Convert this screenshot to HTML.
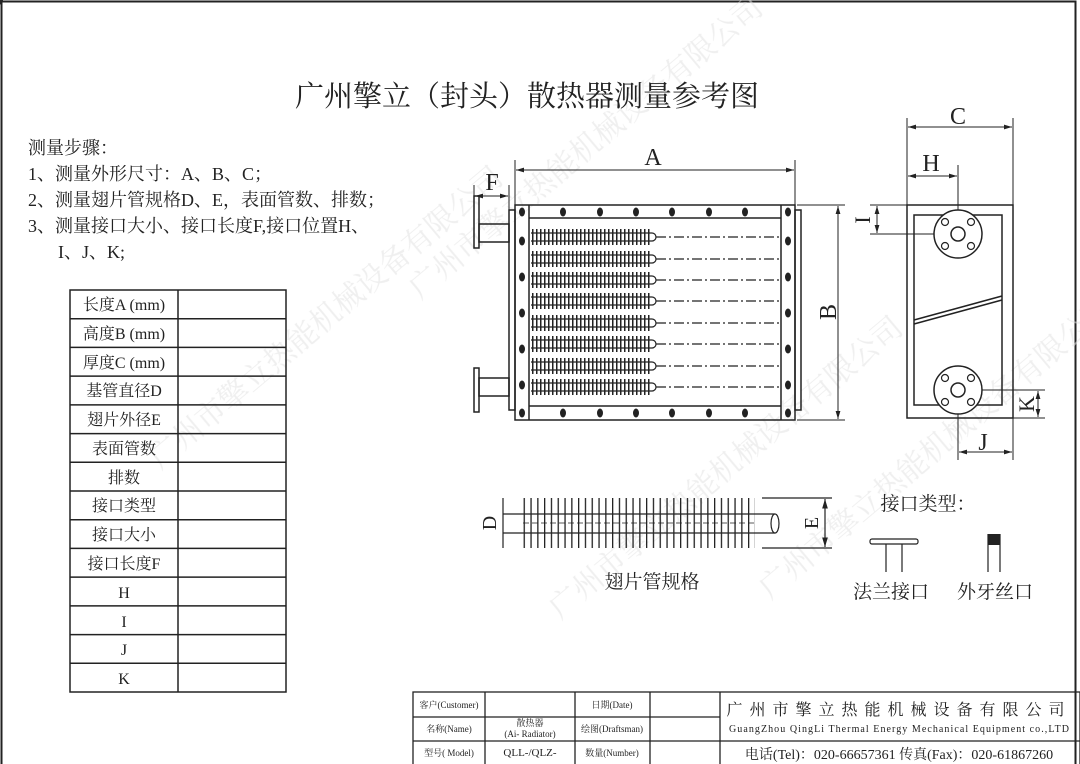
<!DOCTYPE html>
<html><head><meta charset="utf-8"><style>
html,body{margin:0;padding:0;background:#fff}
svg{display:block}
text{font-family:"Liberation Serif","Noto Serif CJK SC",serif;fill:#222}
</style></head><body>
<svg width="1080" height="764" viewBox="0 0 1080 764" xmlns="http://www.w3.org/2000/svg">
<defs>
<pattern id="fin" x="0" y="0" width="4" height="10" patternUnits="userSpaceOnUse"><rect x="0" y="0" width="1.5" height="10" fill="#222"/></pattern>
<pattern id="fin2" x="0" y="0" width="6.8" height="10" patternUnits="userSpaceOnUse"><rect x="0" y="0" width="1.3" height="10" fill="#222"/></pattern>
<marker id="ar" viewBox="0 0 10 6" refX="10" refY="3" markerWidth="8" markerHeight="5" orient="auto-start-reverse"><path d="M0,0 L10,3 L0,6 z" fill="#222"/></marker>
</defs>
<rect x="1.5" y="1.5" width="1074" height="780" fill="none" stroke="#222" stroke-width="2"/>
<g font-size="30" opacity="0.55" style="fill:#e2e2e2">
<text style="fill:#e2e2e2" transform="translate(160,470) rotate(-40)">广州市擎立热能机械设备有限公司</text>
<text style="fill:#e2e2e2" transform="translate(560,620) rotate(-40)">广州市擎立热能机械设备有限公司</text>
<text style="fill:#e2e2e2" transform="translate(420,300) rotate(-40)">广州市擎立热能机械设备有限公司</text>
<text style="fill:#e2e2e2" transform="translate(770,600) rotate(-40)">广州市擎立热能机械设备有限公司</text>
</g>
<text x="527" y="106" font-size="29" text-anchor="middle">广州擎立（封头）散热器测量参考图</text>
<g font-size="18">
<text x="28" y="154">测量步骤：</text>
<text x="28" y="180">1、测量外形尺寸：A、B、C；</text>
<text x="28" y="206">2、测量翅片管规格D、E，表面管数、排数；</text>
<text x="28" y="232">3、测量接口大小、接口长度F,接口位置H、</text>
<text x="58" y="258">I、J、K;</text>
</g>
<g stroke="#222" stroke-width="1.5" fill="none">
<rect x="70" y="290" width="216" height="402"/>
<line x1="178" y1="290" x2="178" y2="692"/>
<line x1="70" y1="318.7" x2="286" y2="318.7"/><line x1="70" y1="347.4" x2="286" y2="347.4"/>
<line x1="70" y1="376.1" x2="286" y2="376.1"/><line x1="70" y1="404.9" x2="286" y2="404.9"/>
<line x1="70" y1="433.6" x2="286" y2="433.6"/><line x1="70" y1="462.3" x2="286" y2="462.3"/>
<line x1="70" y1="491" x2="286" y2="491"/><line x1="70" y1="519.7" x2="286" y2="519.7"/>
<line x1="70" y1="548.4" x2="286" y2="548.4"/><line x1="70" y1="577.1" x2="286" y2="577.1"/>
<line x1="70" y1="605.9" x2="286" y2="605.9"/><line x1="70" y1="634.6" x2="286" y2="634.6"/>
<line x1="70" y1="663.3" x2="286" y2="663.3"/>
</g>
<g font-size="16" text-anchor="middle">
<text x="124" y="310">长度A (mm)</text>
<text x="124" y="339">高度B (mm)</text>
<text x="124" y="368">厚度C (mm)</text>
<text x="124" y="396">基管直径D</text>
<text x="124" y="425">翅片外径E</text>
<text x="124" y="454">表面管数</text>
<text x="124" y="483">排数</text>
<text x="124" y="511">接口类型</text>
<text x="124" y="540">接口大小</text>
<text x="124" y="569">接口长度F</text>
<text x="124" y="598">H</text>
<text x="124" y="627">I</text>
<text x="124" y="655">J</text>
<text x="124" y="684">K</text>
</g>
<g stroke="#222" stroke-width="1.5" fill="none">
<rect x="509" y="210" width="6" height="200"/>
<rect x="795" y="210" width="6" height="200"/>
<rect x="515" y="205" width="280" height="215"/>
<line x1="529" y1="205" x2="529" y2="420"/>
<line x1="781" y1="205" x2="781" y2="420"/>
<line x1="529" y1="218" x2="781" y2="218"/>
<line x1="529" y1="406" x2="781" y2="406"/>
<rect x="474" y="196" width="5" height="52"/>
<rect x="479" y="224" width="30" height="18"/>
<rect x="474" y="368" width="5" height="44"/>
<rect x="479" y="378" width="30" height="18"/>
</g>
<g fill="#222">
<g id="bt"><ellipse cx="0" cy="0" rx="3" ry="4.5"/></g>
<use href="#bt" x="563" y="212"/><use href="#bt" x="600" y="212"/><use href="#bt" x="636" y="212"/><use href="#bt" x="672" y="212"/><use href="#bt" x="709" y="212"/><use href="#bt" x="745" y="212"/>
<use href="#bt" x="563" y="413"/><use href="#bt" x="600" y="413"/><use href="#bt" x="636" y="413"/><use href="#bt" x="672" y="413"/><use href="#bt" x="709" y="413"/><use href="#bt" x="745" y="413"/>
<use href="#bt" x="522" y="212"/><use href="#bt" x="522" y="241"/><use href="#bt" x="522" y="277"/><use href="#bt" x="522" y="313"/><use href="#bt" x="522" y="349"/><use href="#bt" x="522" y="385"/><use href="#bt" x="522" y="413"/>
<use href="#bt" x="788" y="212"/><use href="#bt" x="788" y="241"/><use href="#bt" x="788" y="277"/><use href="#bt" x="788" y="313"/><use href="#bt" x="788" y="349"/><use href="#bt" x="788" y="385"/><use href="#bt" x="788" y="413"/>
</g>
<g>
<rect x="531" y="229" width="121" height="16" fill="url(#fin)"/>
<rect x="531" y="251" width="121" height="16" fill="url(#fin)"/>
<rect x="531" y="272" width="121" height="16" fill="url(#fin)"/>
<rect x="531" y="293" width="121" height="16" fill="url(#fin)"/>
<rect x="531" y="315" width="121" height="16" fill="url(#fin)"/>
<rect x="531" y="336" width="121" height="16" fill="url(#fin)"/>
<rect x="531" y="358" width="121" height="16" fill="url(#fin)"/>
<rect x="531" y="379" width="121" height="16" fill="url(#fin)"/>
</g>
<g stroke="#222" stroke-width="1.2" fill="none">
<path d="M531 233h121a4 4 0 0 1 0 8h-121M531 255h121a4 4 0 0 1 0 8h-121M531 276h121a4 4 0 0 1 0 8h-121M531 297h121a4 4 0 0 1 0 8h-121M531 319h121a4 4 0 0 1 0 8h-121M531 340h121a4 4 0 0 1 0 8h-121M531 362h121a4 4 0 0 1 0 8h-121M531 383h121a4 4 0 0 1 0 8h-121"/>
<g stroke-dasharray="10 3 2 3">
<line x1="656" y1="237" x2="780" y2="237"/><line x1="656" y1="259" x2="780" y2="259"/>
<line x1="656" y1="280" x2="780" y2="280"/><line x1="656" y1="301" x2="780" y2="301"/>
<line x1="656" y1="323" x2="780" y2="323"/><line x1="656" y1="344" x2="780" y2="344"/>
<line x1="656" y1="366" x2="780" y2="366"/><line x1="656" y1="387" x2="780" y2="387"/>
</g>
</g>
<g stroke="#222" stroke-width="1" fill="none">
<line x1="515" y1="160" x2="515" y2="205"/><line x1="795" y1="160" x2="795" y2="205"/>
<line x1="516" y1="170" x2="794" y2="170" marker-start="url(#ar)" marker-end="url(#ar)"/>
<line x1="474" y1="185" x2="474" y2="196"/><line x1="509" y1="185" x2="509" y2="210"/>
<line x1="475" y1="196" x2="508" y2="196" marker-start="url(#ar)" marker-end="url(#ar)"/>
<line x1="797" y1="205" x2="845" y2="205"/><line x1="797" y1="420" x2="845" y2="420"/>
<line x1="838" y1="206" x2="838" y2="419" marker-start="url(#ar)" marker-end="url(#ar)"/>
</g>
<text x="653" y="165" font-size="24" text-anchor="middle">A</text>
<text x="492" y="190" font-size="24" text-anchor="middle">F</text>
<text transform="translate(836,312) rotate(-90)" font-size="24" text-anchor="middle">B</text>
<g stroke="#222" stroke-width="1.5" fill="none">
<rect x="907" y="205" width="106" height="213"/>
<rect x="914" y="215" width="88" height="190"/>
<line x1="914" y1="320" x2="1002" y2="296"/><line x1="914" y1="324" x2="1002" y2="300"/>
<circle cx="958" cy="234" r="24" fill="#fff"/><circle cx="958" cy="234" r="7"/>
<circle cx="958" cy="390" r="24" fill="#fff"/><circle cx="958" cy="390" r="7"/>
<g stroke-width="1.2"><circle cx="945" cy="222" r="3.5"/><circle cx="971" cy="222" r="3.5"/><circle cx="945" cy="246" r="3.5"/><circle cx="971" cy="246" r="3.5"/>
<circle cx="945" cy="378" r="3.5"/><circle cx="971" cy="378" r="3.5"/><circle cx="945" cy="402" r="3.5"/><circle cx="971" cy="402" r="3.5"/></g>
</g>
<g stroke="#222" stroke-width="1" fill="none">
<line x1="907" y1="118" x2="907" y2="205"/><line x1="1013" y1="118" x2="1013" y2="205"/>
<line x1="908" y1="127" x2="1012" y2="127" marker-start="url(#ar)" marker-end="url(#ar)"/>
<line x1="958" y1="165" x2="958" y2="210"/>
<line x1="908" y1="176" x2="957" y2="176" marker-start="url(#ar)" marker-end="url(#ar)"/>
<line x1="870" y1="205" x2="907" y2="205"/><line x1="870" y1="234" x2="934" y2="234"/>
<line x1="877" y1="206" x2="877" y2="233" marker-start="url(#ar)" marker-end="url(#ar)"/>
<line x1="982" y1="390" x2="1045" y2="390"/><line x1="1013" y1="418" x2="1045" y2="418"/>
<line x1="1038" y1="391" x2="1038" y2="417" marker-start="url(#ar)" marker-end="url(#ar)"/>
<line x1="958" y1="414" x2="958" y2="460"/><line x1="1013" y1="418" x2="1013" y2="460"/>
<line x1="959" y1="452" x2="1012" y2="452" marker-start="url(#ar)" marker-end="url(#ar)"/>
</g>
<text x="958" y="124" font-size="24" text-anchor="middle">C</text>
<text x="931" y="171" font-size="24" text-anchor="middle">H</text>
<text transform="translate(870,220) rotate(-90)" font-size="22" text-anchor="middle">I</text>
<text transform="translate(1034,404) rotate(-90)" font-size="22" text-anchor="middle">K</text>
<text x="983" y="450" font-size="24" text-anchor="middle">J</text>
<rect x="523" y="498" width="232" height="50" fill="url(#fin2)"/>
<g stroke="#222" stroke-width="1.2" fill="none">
<line x1="503" y1="514" x2="775" y2="514"/><line x1="503" y1="533" x2="775" y2="533"/>
<ellipse cx="775" cy="523.5" rx="4" ry="9.5" fill="#fff"/>
<line x1="523" y1="523" x2="755" y2="523" stroke-dasharray="6 3" stroke-width="0.8"/>
<line x1="762" y1="498" x2="832" y2="498"/><line x1="762" y1="548" x2="832" y2="548"/>
<line x1="825" y1="499" x2="825" y2="547" marker-start="url(#ar)" marker-end="url(#ar)"/>
<line x1="503" y1="498" x2="503" y2="548"/>
<rect x="870" y="539" width="48" height="5" rx="2"/>
<line x1="886" y1="544" x2="886" y2="572"/><line x1="902" y1="544" x2="902" y2="572"/>
<line x1="988" y1="534" x2="988" y2="572"/><line x1="1000" y1="534" x2="1000" y2="572"/>
</g>
<rect x="988" y="534" width="12" height="11" fill="#222"/>
<text transform="translate(496,523) rotate(-90)" font-size="20" text-anchor="middle">D</text>
<text transform="translate(818,523) rotate(-90)" font-size="20" text-anchor="middle">E</text>
<text x="652" y="588" font-size="19" text-anchor="middle">翅片管规格</text>
<text x="928" y="510" font-size="19" text-anchor="middle">接口类型：</text>
<text x="891" y="598" font-size="19" text-anchor="middle">法兰接口</text>
<text x="995" y="598" font-size="19" text-anchor="middle">外牙丝口</text>
<g stroke="#222" stroke-width="1.3" fill="none">
<rect x="413" y="692" width="667" height="80"/>
<line x1="413" y1="717" x2="720" y2="717"/><line x1="413" y1="741" x2="1080" y2="741"/>
<line x1="485" y1="692" x2="485" y2="764"/><line x1="575" y1="692" x2="575" y2="764"/>
<line x1="650" y1="692" x2="650" y2="764"/><line x1="720" y1="692" x2="720" y2="764"/>
</g>
<g font-size="9" text-anchor="middle">
<text x="449" y="708">客户(Customer)</text>
<text x="612" y="708">日期(Date)</text>
<text x="449" y="732">名称(Name)</text>
<text x="530" y="726">散热器</text>
<text x="530" y="737">(Ai- Radiator)</text>
<text x="612" y="732">绘图(Draftsman)</text>
<text x="449" y="756">型号( Model)</text>
<text x="530" y="756" font-size="11">QLL-/QLZ-</text>
<text x="612" y="756">数量(Number)</text>
</g>
<text x="899" y="715" font-size="16" text-anchor="middle" letter-spacing="7">广州市擎立热能机械设备有限公司</text>
<text x="899" y="732" font-size="10" text-anchor="middle" textLength="340">GuangZhou QingLi Thermal Energy Mechanical Equipment co.,LTD</text>
<text x="899" y="759" font-size="14" text-anchor="middle">电话(Tel)：020-66657361  传真(Fax)：020-61867260</text>
</svg>
</body></html>
